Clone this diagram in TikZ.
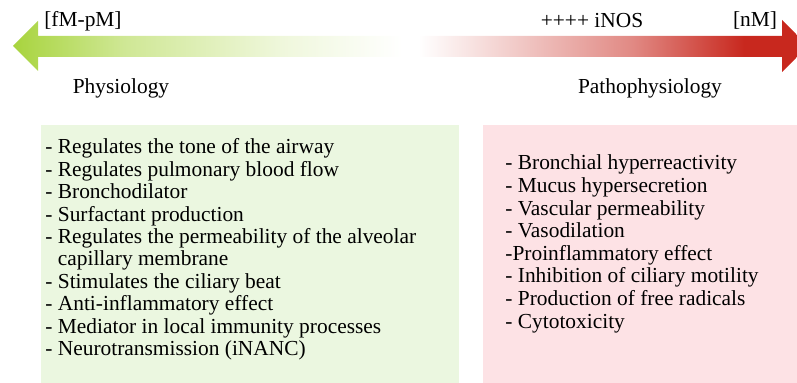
\documentclass[tikz,border=0pt]{standalone}
\usepackage{fontspec}
\setmainfont{Liberation Serif}
\usepackage{xcolor}
\usetikzlibrary{positioning}

\definecolor{physgreen}{HTML}{A8D43E}
\definecolor{pathred}{HTML}{C8281E}
\definecolor{physbox}{HTML}{EBF7E0}
\definecolor{pathbox}{HTML}{FDE2E5}

% green -> white -> red along the bar
\pgfdeclarehorizontalshading{nosbar}{100bp}{%
  color(0bp)=(physgreen); color(25bp)=(physgreen);
  color(32bp)=(physgreen!55!white); color(42bp)=(physgreen!18!white);
  color(49.5bp)=(white); color(50.5bp)=(white);
  color(56bp)=(pathred!22!white); color(64bp)=(pathred!55!white);
  color(71bp)=(pathred); color(75bp)=(pathred); color(100bp)=(pathred)}

\tikzset{
  txt/.style={font=\fontsize{10.7}{12}\selectfont, inner sep=0pt},
  item/.style={txt, anchor=base west},
}

\begin{document}
\begin{tikzpicture}[x=0.5pt, y=-0.5pt]
\useasboundingbox (0,0) rectangle (797,383);
\clip (0,0) rectangle (797,383);

% double arrow
\shade[shading=nosbar] (13,46) -- (38,21) -- (38,36) -- (782,36) -- (782,20)
  -- (808,46) -- (782,72) -- (782,57) -- (38,57) -- (38,71) -- cycle;

\node[txt] (conclow) at (83,21) {[fM-pM]};
\node[txt] (inos) at (592,21) {++++ iNOS};
\node[txt] (conchigh) at (755,21) {[nM]};
\node[txt, anchor=base] (physio) at (121,94) {Physiology};
\node[txt, anchor=base] (patho) at (650,94) {Pathophysiology};

% boxes
\fill[physbox] (41,125) rectangle (459,383);
\fill[pathbox] (483,125) rectangle (797,383);

\foreach \t [count=\i] in {- Regulates the tone of the airway,
    - Regulates pulmonary blood flow, - Bronchodilator,
    - Surfactant production,
    - Regulates the permeability of the alveolar,
    \hphantom{- }capillary membrane,
    - Stimulates the ciliary beat, - Anti-inflammatory effect,
    - Mediator in local immunity processes,
    - Neurotransmission (iNANC)}
  \node[item] (phys\i) at (45,{154+22.4*(\i-1)}) {\t};

\foreach \t [count=\i] in {- Bronchial hyperreactivity,
    - Mucus hypersecretion, - Vascular permeability, - Vasodilation,
    -Proinflammatory effect, - Inhibition of ciliary motility,
    - Production of free radicals, - Cytotoxicity}
  \node[item] (path\i) at (505,{170+22.6*(\i-1)}) {\t};
\end{tikzpicture}
\end{document}
